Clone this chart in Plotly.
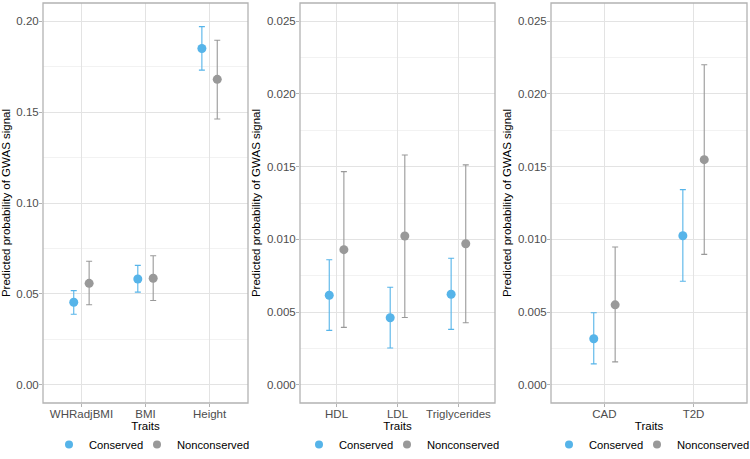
import plotly.graph_objects as go

# ---- data ----
traits1 = ["WHRadjBMI", "BMI", "Height"]
cons1 = [0.0454, 0.0582, 0.1850]
cons1_lo = [0.0388, 0.0510, 0.1731]
cons1_hi = [0.0518, 0.0657, 0.1970]
non1 = [0.0558, 0.0586, 0.1680]
non1_lo = [0.0440, 0.0464, 0.1462]
non1_hi = [0.0680, 0.0710, 0.1895]

traits2 = ["HDL", "LDL", "Triglycerides"]
cons2 = [0.00616, 0.00461, 0.00623]
cons2_lo = [0.00374, 0.00253, 0.00381]
cons2_hi = [0.00860, 0.00671, 0.00870]
non2 = [0.00929, 0.01023, 0.00970]
non2_lo = [0.00395, 0.00463, 0.00427]
non2_hi = [0.01466, 0.01580, 0.01512]

traits3 = ["CAD", "T2D"]
cons3 = [0.00317, 0.01025]
cons3_lo = [0.00144, 0.00712]
cons3_hi = [0.00495, 0.01342]
non3 = [0.00550, 0.01548]
non3_lo = [0.00158, 0.00897]
non3_hi = [0.00947, 0.02200]

y_ranges = [[-0.01, 0.21], [-0.00125, 0.02625], [-0.00125, 0.02625]]
y_ticks = [[0, 0.05, 0.10, 0.15, 0.20], [0, 0.005, 0.01, 0.015, 0.02, 0.025],
           [0, 0.005, 0.01, 0.015, 0.02, 0.025]]
y_ticktext = [["0.00", "0.05", "0.10", "0.15", "0.20"],
              ["0.000", "0.005", "0.010", "0.015", "0.020", "0.025"],
              ["0.000", "0.005", "0.010", "0.015", "0.020", "0.025"]]

BLUE = "#56B4E9"
GREY = "#999999"
FONT = "Liberation Sans, Arial, sans-serif"
DODGE = 0.12

W, H = 750, 459
x_px = [(43, 248), (300, 495), (551, 747)]
y_px = (3, 403)
legend_marker_px = [67, 317, 567]

panels = [
    (traits1, cons1, cons1_lo, cons1_hi, non1, non1_lo, non1_hi),
    (traits2, cons2, cons2_lo, cons2_hi, non2, non2_lo, non2_hi),
    (traits3, cons3, cons3_lo, cons3_hi, non3, non3_lo, non3_hi),
]

fig = go.Figure()
layout = dict(
    width=W, height=H, margin=dict(l=0, r=0, t=0, b=0),
    plot_bgcolor="white", paper_bgcolor="white",
    font=dict(family=FONT, color="#4D4D4D", size=11),
    showlegend=True,
)
shapes = []

for i, (traits, c, clo, chi, n, nlo, nhi) in enumerate(panels):
    k = "" if i == 0 else str(i + 1)
    xa, ya = "x" + k, "y" + k
    lg = "legend" + k
    idx = list(range(1, len(traits) + 1))
    for name, vals, lo, hi, col, off, lw in [
        ("Conserved", c, clo, chi, BLUE, -DODGE, 43),
        ("Nonconserved", n, nlo, nhi, GREY, DODGE, 68),
    ]:
        fig.add_trace(go.Scatter(
            x=[v + off for v in idx], y=vals, mode="markers",
            marker=dict(color=col, size=9),
            error_y=dict(type="data", symmetric=False,
                         array=[h - v for h, v in zip(hi, vals)],
                         arrayminus=[v - l for v, l in zip(vals, lo)],
                         color=col, thickness=1.1, width=3),
            xaxis=xa, yaxis=ya, showlegend=False, name=name,
        ))
        # legend key
        fig.add_trace(go.Scatter(
            x=[None], y=[None], mode="markers", name=name,
            marker=dict(color=col, size=8),
            xaxis=xa, yaxis=ya, legend=lg, showlegend=True, legendwidth=lw,
        ))
    x0, x1 = x_px[i]
    dom_x = [x0 / W, x1 / W]
    dom_y = [(H - y_px[1]) / H, (H - y_px[0]) / H]
    layout["xaxis" + k] = dict(
        domain=dom_x, anchor=ya, range=[0.4, len(traits) + 0.6],
        tickmode="array", tickvals=idx, ticktext=traits,
        showgrid=True, gridcolor="#E3E3E3", gridwidth=1,
        zeroline=False, showline=False,
        ticks="outside", ticklen=3, tickcolor="#B3B3B3", tickwidth=1,
        ticklabelstandoff=-3,
        tickfont=dict(size=11.5, color="#4D4D4D", family=FONT),
        title=dict(text="Traits", font=dict(size=11.5, color="black", family=FONT), standoff=3),
        automargin=False, fixedrange=True,
    )
    minor_step = (y_ticks[i][1] - y_ticks[i][0]) / 2
    layout["yaxis" + k] = dict(
        domain=dom_y, anchor=xa, range=y_ranges[i],
        tickmode="array", tickvals=y_ticks[i], ticktext=y_ticktext[i],
        showgrid=True, gridcolor="#E3E3E3", gridwidth=1,
        minor=dict(tickmode="linear", tick0=minor_step, dtick=minor_step * 2,
                   showgrid=True, gridcolor="#F2F2F2", gridwidth=1, ticks=""),
        zeroline=False, showline=False,
        ticks="outside", ticklen=3, tickcolor="#B3B3B3", tickwidth=1,
        ticklabelstandoff=-2,
        tickfont=dict(size=11.5, color="#4D4D4D", family=FONT),
        title=dict(text="Predicted probability of GWAS signal",
                   font=dict(size=11.5, color="black", family=FONT), standoff=3),
        automargin=False, fixedrange=True,
    )
    # panel border
    shapes.append(dict(type="rect", xref=xa + " domain", yref=ya + " domain",
                       x0=0, x1=1, y0=0, y1=1,
                       line=dict(color="#B3B3B3", width=1.3), layer="above"))
    layout[lg] = dict(
        orientation="h", x=(legend_marker_px[i] - 18) / W, xanchor="left",
        y=0.0, yanchor="bottom", font=dict(size=11.2, color="black", family=FONT),
        bgcolor="rgba(0,0,0,0)", itemwidth=30, tracegroupgap=0,
        entrywidthmode="pixels",
    )

layout["shapes"] = shapes
fig.update_layout(**layout)
fig.write_html("out.html",
               config={"displayModeBar": False, "staticPlot": True},
               post_script="document.body.style.margin='0px';"
                           "document.documentElement.style.margin='0px';")
